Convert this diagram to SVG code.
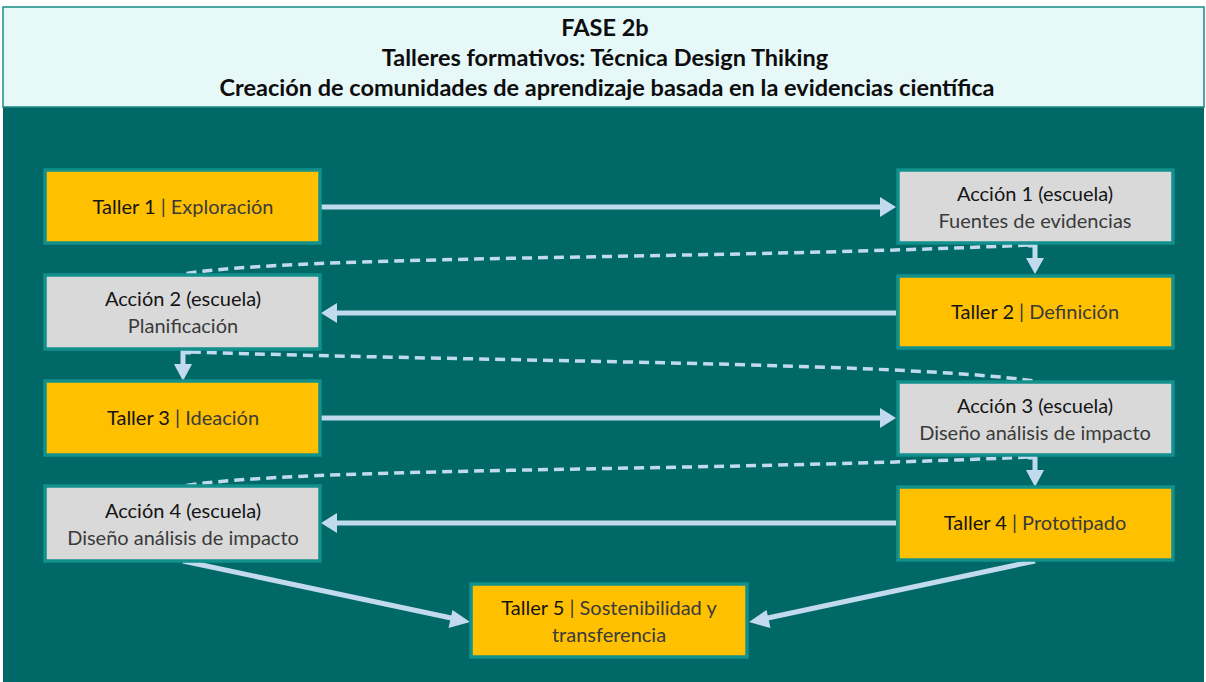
<svg xmlns="http://www.w3.org/2000/svg" width="1206" height="682" viewBox="0 0 1206 682">
<style>
.t{font-family:Lato,"Open Sans","Liberation Sans",sans-serif;font-size:20px;text-anchor:middle}
.h{font-family:Lato,"Open Sans","Liberation Sans",sans-serif;font-size:23.5px;font-weight:bold;text-anchor:middle;fill:#0d0d0d}
.y{fill:#FFC000;stroke:#12908C;stroke-width:3.5}
.g{fill:#D9D9D9;stroke:#12908C;stroke-width:3.5}
.k{fill:#141414}
.s{fill:#3b3b3b}
.c{fill:none;stroke:#C2DAEE;stroke-width:5}
.d{fill:none;stroke:#C2DAEE;stroke-width:3.5;stroke-dasharray:10 6}
.a{fill:#C2DAEE}
</style>
<rect x="0" y="0" width="1206" height="682" fill="#ffffff"/>
<rect x="3" y="107" width="1201" height="575" fill="#006866"/>
<g id="header">
<rect x="3" y="7" width="1201" height="100" fill="#E6F8F8" stroke="#1A8A87" stroke-width="1.5"/>
<text class="h" x="605" y="36">FASE 2b</text>
<text class="h" x="605" y="66">Talleres formativos: Técnica Design Thiking</text>
<text class="h" x="607" y="96">Creación de comunidades de aprendizaje basada en la evidencias científica</text>
</g>
<g id="connectors">
<path class="c" d="M321,207 H882"/>
<polygon class="a" points="896,207 880,197 880,217"/>
<path class="c" d="M896,313 H335"/>
<polygon class="a" points="321,313 337,303 337,323"/>
<path class="c" d="M308,418 H882"/>
<polygon class="a" points="896,418 880,408 880,428"/>
<path class="c" d="M896,523 H335"/>
<polygon class="a" points="321,523 337,513 337,533"/>
<path class="c" d="M1028,245 H1035 V262"/>
<polygon class="a" points="1035,274 1026,258 1044,258"/>
<path class="c" d="M191,352 H183 V367"/>
<polygon class="a" points="183,381 174,364 192,364"/>
<path class="c" d="M1028,457 H1035 V474"/>
<polygon class="a" points="1035,487 1026,470 1044,470"/>
<path class="d" d="M1028,245 C700,260 300,255 183,274"/>
<path class="d" d="M191,352 C500,362 900,362 1035,381"/>
<path class="d" d="M1028,457 C700,472 300,467 183,486"/>
<path class="c" d="M183,561 L456,619"/>
<polygon class="a" points="470,622 452.5,610 448.5,628"/>
<path class="c" d="M1035,561 L763,619"/>
<polygon class="a" points="749,622 766.5,610 770.5,628"/>
</g>
<g id="taller1">
<rect class="y" x="45" y="170" width="275" height="73"/>
<text class="t" x="183" y="214"><tspan class="k">Taller 1</tspan><tspan class="s"> | Exploración</tspan></text>
</g>
<g id="accion1">
<rect class="g" x="898" y="170" width="275" height="73"/>
<text class="t k" x="1035" y="201">Acción 1 (escuela)</text>
<text class="t s" x="1035" y="228">Fuentes de evidencias</text>
</g>
<g id="accion2">
<rect class="g" x="45" y="275" width="275" height="74"/>
<text class="t k" x="183" y="306">Acción 2 (escuela)</text>
<text class="t s" x="183" y="333">Planificación</text>
</g>
<g id="taller2">
<rect class="y" x="898" y="276" width="275" height="72"/>
<text class="t" x="1035" y="319"><tspan class="k">Taller 2</tspan><tspan class="s"> | Definición</tspan></text>
</g>
<g id="taller3">
<rect class="y" x="45" y="381" width="275" height="74"/>
<text class="t" x="183" y="425"><tspan class="k">Taller 3</tspan><tspan class="s"> | Ideación</tspan></text>
</g>
<g id="accion3">
<rect class="g" x="898" y="382" width="275" height="73"/>
<text class="t k" x="1035" y="413">Acción 3 (escuela)</text>
<text class="t s" x="1035" y="440">Diseño análisis de impacto</text>
</g>
<g id="accion4">
<rect class="g" x="45" y="486" width="275" height="75"/>
<text class="t k" x="183" y="518">Acción 4 (escuela)</text>
<text class="t s" x="183" y="545">Diseño análisis de impacto</text>
</g>
<g id="taller4">
<rect class="y" x="898" y="487" width="275" height="73"/>
<text class="t" x="1035" y="530"><tspan class="k">Taller 4</tspan><tspan class="s"> | Prototipado</tspan></text>
</g>
<g id="taller5">
<rect class="y" x="471" y="584" width="276" height="73"/>
<text class="t" x="609" y="615"><tspan class="k">Taller 5</tspan><tspan class="s"> | Sostenibilidad y</tspan></text>
<text class="t s" x="609" y="642">transferencia</text>
</g>
</svg>
